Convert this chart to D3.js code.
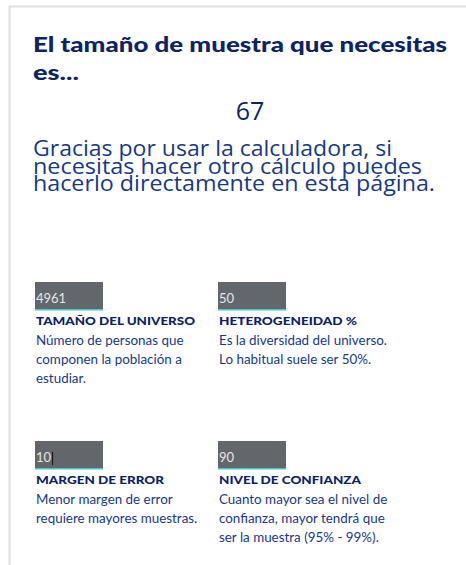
<!DOCTYPE html>
<html>
<head>
<meta charset="utf-8">
<script src="https://cdn.jsdelivr.net/npm/d3@7"></script>
<style>
  html, body { margin: 0; padding: 0; background: #fff; }
</style>
</head>
<body>
<div id="calc"></div>
<script>
// ---- data ----
var titleLines = ["El tamaño de muestra que necesitas", "es..."];
var result = 67;
var thanksLines = [
  "Gracias por usar la calculadora, si",
  "necesitas hacer otro cálculo puedes",
  "hacerlo directamente en esta página."
];
var fieldValues = ["4961", "50", "10", "90"];
var fieldLabels = ["TAMAÑO DEL UNIVERSO", "HETEROGENEIDAD %", "MARGEN DE ERROR", "NIVEL DE CONFIANZA"];
var fieldHelp = [
  ["Número de personas que", "componen la población a", "estudiar."],
  ["Es la diversidad del universo.", "Lo habitual suele ser 50%."],
  ["Menor margen de error", "requiere mayores muestras."],
  ["Cuanto mayor sea el nivel de", "confianza, mayor tendrá que", "ser la muestra (95% - 99%)."]
];

// layout: rendered widths of the long lines in the original
var thanksWidths = [359, 389, 402];
var titleWidths = [414, 46];
var labelWidths = [159, 138, 128, 142];

var width = 466, height = 565;
var navy = "#0c2466", blue = "#173a86";
var heavy = "Lato, 'DejaVu Sans', sans-serif";

var svg = d3.select("#calc").append("svg")
  .attr("width", width)
  .attr("height", height);

// card border (top + left)
svg.append("path")
  .attr("d", "M9.5," + height + "V6.5H" + width)
  .attr("fill", "none")
  .attr("stroke", "#dedede")
  .attr("stroke-width", 2);

// title
svg.selectAll("text.title")
  .data(titleLines)
  .enter()
  .append("text")
  .attr("class", "title")
  .attr("x", 33)
  .attr("y", function(d, i) { return 52 + i * 27.5; })
  .attr("font-family", heavy)
  .attr("font-weight", 900)
  .attr("font-size", "20.5px")
  .attr("fill", navy)
  .attr("textLength", function(d, i) { return titleWidths[i]; })
  .attr("lengthAdjust", "spacingAndGlyphs")
  .text(function(d) { return d; });

// result number
svg.append("text")
  .attr("x", 250)
  .attr("y", 120)
  .attr("text-anchor", "middle")
  .attr("font-family", "'Open Sans', sans-serif")
  .attr("font-size", "25px")
  .attr("fill", navy)
  .text(result);

// thanks paragraph, tight line height like the original
svg.selectAll("text.thanks")
  .data(thanksLines)
  .enter()
  .append("text")
  .attr("class", "thanks")
  .attr("x", 33)
  .attr("y", function(d, i) { return 156 + i * 17.5; })
  .attr("font-family", "'Open Sans', sans-serif")
  .attr("font-size", "22px")
  .attr("fill", blue)
  .attr("textLength", function(d, i) { return thanksWidths[i]; })
  .attr("lengthAdjust", "spacingAndGlyphs")
  .text(function(d) { return d; });

// form fields: 2 x 2 grid
var col = d3.scaleOrdinal().domain([0, 1]).range([36, 219]);
var row = d3.scaleOrdinal().domain([0, 1]).range([282, 441]);

var fields = fieldValues.map(function(v, i) {
  return { value: v, label: fieldLabels[i], lw: labelWidths[i], help: fieldHelp[i], c: i % 2, r: Math.floor(i / 2) };
});

var g = svg.selectAll("g.field")
  .data(fields)
  .enter()
  .append("g")
  .attr("class", "field")
  .attr("transform", function(d) { return "translate(" + col(d.c) + "," + row(d.r) + ")"; });

g.append("rect")
  .attr("x", -1)
  .attr("width", 68)
  .attr("height", 28)
  .attr("fill", "#63666b");

g.append("rect")
  .attr("x", -1)
  .attr("y", 27)
  .attr("width", 68)
  .attr("height", 1.5)
  .attr("fill", "#45c9cf");

g.append("text")
  .attr("class", "val")
  .attr("x", 0)
  .attr("y", 21)
  .attr("font-family", "Lato, sans-serif")
  .attr("font-size", "13px")
  .attr("fill", "#e6e6e6")
  .text(function(d) { return d.value; });

// text cursor in the focused field
g.filter(function(d, i) { return i === 2; })
  .append("line")
  .attr("x1", function() { return this.parentNode.querySelector("text.val").getComputedTextLength() + 1.5; })
  .attr("x2", function() { return this.parentNode.querySelector("text.val").getComputedTextLength() + 1.5; })
  .attr("y1", 11)
  .attr("y2", 24)
  .attr("stroke", "#111")
  .attr("stroke-width", 1);

g.append("text")
  .attr("x", 0)
  .attr("y", 43)
  .attr("font-family", heavy)
  .attr("font-weight", 900)
  .attr("font-size", "11.5px")
  .attr("fill", navy)
  .attr("textLength", function(d) { return d.lw; })
  .attr("lengthAdjust", "spacingAndGlyphs")
  .text(function(d) { return d.label; });

g.selectAll("text.help")
  .data(function(d) { return d.help; })
  .enter()
  .append("text")
  .attr("class", "help")
  .attr("x", 0)
  .attr("y", function(d, i) { return 63 + i * 19; })
  .attr("font-family", "Lato, sans-serif")
  .attr("font-size", "13.4px")
  .attr("fill", blue)
  .text(function(d) { return d; });
</script>
</body>
</html>
